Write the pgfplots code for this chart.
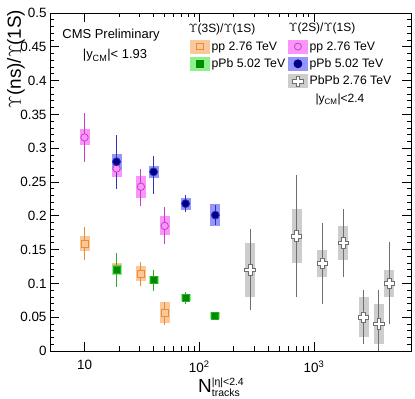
\documentclass[border=0pt]{standalone}
\usepackage{pgfplots}
\usepackage{pgfplotstable}
\pgfplotsset{compat=1.18}
\usepackage{fontspec}
\setmainfont{Liberation Sans}
\setsansfont{Liberation Sans}

\definecolor{orangeline}{RGB}{235,140,50}
\definecolor{orangebox}{RGB}{250,200,155}
\definecolor{greenline}{RGB}{40,170,40}
\definecolor{greenmark}{RGB}{0,140,0}
\definecolor{greenbox}{RGB}{140,240,140}
\definecolor{magline}{RGB}{204,60,204}
\definecolor{magbox}{RGB}{250,150,250}
\definecolor{navymark}{RGB}{0,0,140}
\definecolor{blueline}{RGB}{50,50,180}
\definecolor{bluebox}{RGB}{150,150,250}
\definecolor{grayline}{RGB}{110,110,110}
\definecolor{graybox}{RGB}{205,205,205}

% open cross marker (outlined plus sign)
\pgfdeclareplotmark{ocross}{%
  \pgfmathsetlengthmacro\ca{0.36*\pgfplotmarksize}%
  \pgfpathmoveto{\pgfqpoint{-\ca}{\pgfplotmarksize}}%
  \pgfpathlineto{\pgfqpoint{\ca}{\pgfplotmarksize}}%
  \pgfpathlineto{\pgfqpoint{\ca}{\ca}}%
  \pgfpathlineto{\pgfqpoint{\pgfplotmarksize}{\ca}}%
  \pgfpathlineto{\pgfqpoint{\pgfplotmarksize}{-\ca}}%
  \pgfpathlineto{\pgfqpoint{\ca}{-\ca}}%
  \pgfpathlineto{\pgfqpoint{\ca}{-\pgfplotmarksize}}%
  \pgfpathlineto{\pgfqpoint{-\ca}{-\pgfplotmarksize}}%
  \pgfpathlineto{\pgfqpoint{-\ca}{-\ca}}%
  \pgfpathlineto{\pgfqpoint{-\pgfplotmarksize}{-\ca}}%
  \pgfpathlineto{\pgfqpoint{-\pgfplotmarksize}{\ca}}%
  \pgfpathlineto{\pgfqpoint{-\ca}{\ca}}%
  \pgfpathclose
  \pgfusepathqfillstroke}

% x y stat+ stat- sys
\pgfplotstableread{
x y ep em sys
10 0.159 0.024 0.024 0.011
19 0.121 0.010 0.010 0.009
31 0.114 0.018 0.018 0.011
50 0.057 0.016 0.019 0.016
}\ppthree
\pgfplotstableread{
x y ep em sys
19 0.120 0.025 0.026 0.008
40 0.105 0.015 0.016 0.006
76 0.079 0.008 0.009 0.005
138 0.052 0.006 0.006 0.005
}\pPbthree
\pgfplotstableread{
x y ep em sys
10 0.316 0.036 0.037 0.012
19 0.270 0.030 0.030 0.012
31 0.243 0.026 0.028 0.016
50 0.185 0.028 0.026 0.014
}\pptwo
\pgfplotstableread{
x y ep em sys
19 0.280 0.040 0.041 0.012
40 0.265 0.024 0.033 0.009
76 0.218 0.013 0.013 0.009
138 0.201 0.015 0.015 0.016
}\pPbtwo
\pgfplotstableread{
x y ep em sys
277 0.120 0.060 0.059 0.040
705 0.170 0.090 0.090 0.040
1180 0.130 0.060 0.060 0.020
1800 0.160 0.050 0.050 0.025
2700 0.050 0.040 0.040 0.030
3670 0.040 0.050 0.045 0.030
4520 0.100 0.061 0.060 0.020
}\PbPbtwo

\pgfplotsset{
  sysbox/.style={only marks, mark=none, forget plot,
    error bars/.cd, y dir=both, y explicit, error mark=none,
    error bar style={line width=10bp, draw=#1}},
  stat/.style n args={4}{only marks, forget plot, mark=#1, mark size=#2,
    mark options={draw=#3, fill=#4, line width=0.8bp},
    error bars/.cd, y dir=both, y explicit, error mark=none,
    error bar style={line width=0.9bp, draw=#3}},
  sysleg/.style n args={4}{legend image code/.code={
    \fill[#1] (0bp,-6.5bp) rectangle (19bp,6.5bp);
    \pgftransformshift{\pgfpoint{9.5bp}{0bp}}%
    \pgfsetstrokecolor{#3}\pgfsetfillcolor{#4}\pgfsetlinewidth{0.8bp}%
    \pgfuseplotmark{#2}}},
}

\begin{document}
\begin{tikzpicture}
\useasboundingbox (-50bp,-48bp) rectangle (365bp,351bp);
\begin{axis}[
  scale only axis,
  width=361bp, height=338bp,
  xmode=log,
  xmin=5, xmax=7000,
  ymin=0, ymax=0.5,
  xtick={10,100,1000},
  xticklabels={10, 10\textsuperscript{2}, 10\textsuperscript{3}},
  ytick={0,0.05,0.1,0.15,0.2,0.25,0.3,0.35,0.4,0.45,0.5},
  minor y tick num=4,
  major tick length=9bp, minor tick length=4.5bp,
  tick align=inside,
  axis line style={line width=0.8bp},
  every tick/.style={black, line width=0.8bp},
  /pgf/number format/assume math mode=true,
  /pgf/number format/fixed,
  /pgf/number format/precision=2,
  tick label style={font=\fontsize{13.5}{14}\selectfont},
  xticklabel style={yshift=-6bp},
  ylabel={$\Upsilon$(ns)/$\Upsilon$(1S)},
  ylabel style={font=\fontsize{19}{20}\selectfont, rotate=0,
    at={(axis description cs:-0.06,1.02)}, anchor=south east},
  xlabel={$\hbox{N}^{\hbox{\fontsize{10.5}{11}\selectfont |η|<2.4}}_{\hbox{\fontsize{10.5}{11}\selectfont tracks}}$},
  xlabel style={font=\fontsize{19}{20}\selectfont,
    at={(axis description cs:0.548,-0.068)}, anchor=north east},
  legend columns=2,
  legend cell align=left,
  legend style={draw=none, fill=none, inner sep=0pt,
    at={(axis description cs:0.388,0.922)}, anchor=north west,
    font=\fontsize{12.3}{14}\selectfont,
    /tikz/every even column/.append style={column sep=1bp},
    row sep=3bp},
]
% systematic boxes
\addplot[sysbox=orangebox] table[x=x, y=y, y error=sys] {\ppthree};
\addplot[sysbox=greenbox] table[x=x, y=y, y error=sys] {\pPbthree};
\addplot[sysbox=magbox] table[x=x, y=y, y error=sys] {\pptwo};
\addplot[sysbox=bluebox] table[x=x, y=y, y error=sys] {\pPbtwo};
\addplot[sysbox=graybox] table[x=x, y=y, y error=sys] {\PbPbtwo};
% statistical errors and points
\addplot[stat={square*}{3.5bp}{orangeline}{orangebox}]
  table[x=x, y=y, y error plus=ep, y error minus=em] {\ppthree};
\addplot[stat={square*}{3.5bp}{greenline}{greenmark}]
  table[x=x, y=y, y error plus=ep, y error minus=em] {\pPbthree};
\addplot[stat={*}{3.7bp}{magline}{magbox}]
  table[x=x, y=y, y error plus=ep, y error minus=em] {\pptwo};
\addplot[stat={*}{4bp}{blueline}{navymark}]
  table[x=x, y=y, y error plus=ep, y error minus=em] {\pPbtwo};
\addplot[stat={ocross}{5.2bp}{grayline}{white}]
  table[x=x, y=y, y error plus=ep, y error minus=em] {\PbPbtwo};

\addlegendimage{mark size=3.3bp, sysleg={orangebox}{square*}{orangeline}{orangebox}}
\addlegendentry{pp 2.76 TeV}
\addlegendimage{mark size=3.5bp, sysleg={magbox}{*}{magline}{magbox}}
\addlegendentry{pp 2.76 TeV}
\addlegendimage{mark size=3.3bp, sysleg={greenbox}{square*}{greenmark}{greenmark}}
\addlegendentry{pPb 5.02 TeV}
\addlegendimage{mark size=4bp, sysleg={bluebox}{*}{navymark}{navymark}}
\addlegendentry{pPb 5.02 TeV}
\addlegendimage{empty legend}
\addlegendentry{}
\addlegendimage{mark size=5.2bp, sysleg={graybox}{ocross}{grayline}{white}}
\addlegendentry{PbPb 2.76 TeV}

\node[font=\fontsize{13}{14}\selectfont] at (axis description cs:0.169,0.935) {CMS Preliminary};
\node[font=\fontsize{13}{14}\selectfont] at (axis description cs:0.18,0.874) {|y\textsubscript{CM}|< 1.93};
\node[font=\fontsize{12}{14}\selectfont, anchor=west] at (axis description cs:0.374,0.950) {$\Upsilon$(3S)/$\Upsilon$(1S)};
\node[font=\fontsize{12}{14}\selectfont, anchor=west] at (axis description cs:0.651,0.953) {$\Upsilon$(2S)/$\Upsilon$(1S)};
\node[font=\fontsize{12}{14}\selectfont, anchor=west] at (axis description cs:0.726,0.743) {|y\textsubscript{CM}|<2.4};
\end{axis}
\end{tikzpicture}
\end{document}
